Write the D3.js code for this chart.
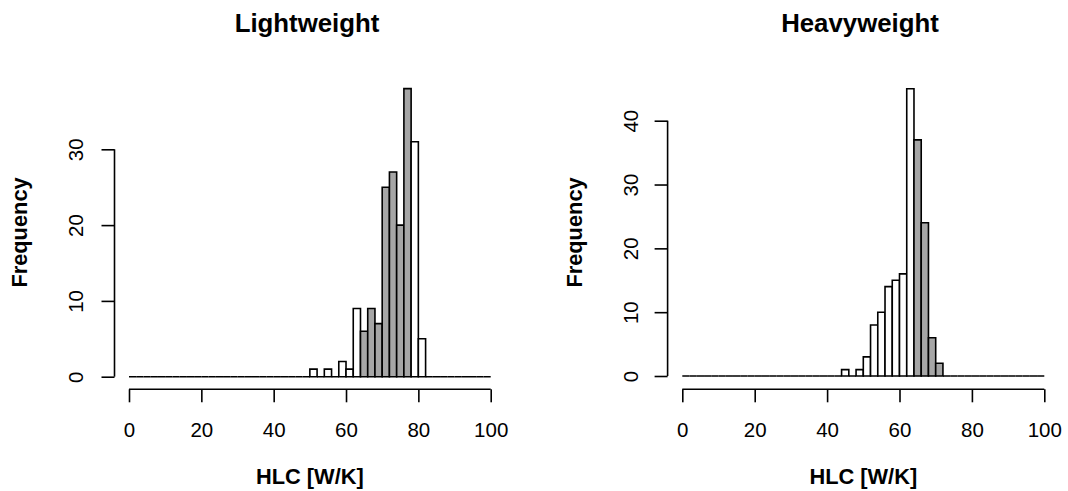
<!DOCTYPE html>
<html>
<head>
<meta charset="utf-8">
<script src="https://cdn.jsdelivr.net/npm/d3@7"></script>
<style>
  html, body { margin: 0; padding: 0; background: #ffffff; }
  svg { display: block; font-family: "Liberation Sans", Arial, Helvetica, sans-serif; }
</style>
</head>
<body>
<svg id="chart" width="1068" height="491"></svg>
<script>
// Histogram breaks: 2 W/K wide bins from 0 to 100
const breaks = d3.range(0, 101, 2);

// Counts per bin (50 bins), lightweight buildings
const countsLight = [
  0, 0, 0, 0, 0, 0, 0, 0, 0, 0,
  0, 0, 0, 0, 0, 0, 0, 0, 0, 0,
  0, 0, 0, 0, 0, 1, 0, 1, 0, 2,
  1, 9, 6, 9, 7, 25, 27, 20, 38, 31,
  5, 0, 0, 0, 0, 0, 0, 0, 0, 0
];

// Counts per bin (50 bins), heavyweight buildings
const countsHeavy = [
  0, 0, 0, 0, 0, 0, 0, 0, 0, 0,
  0, 0, 0, 0, 0, 0, 0, 0, 0, 0,
  0, 0, 1, 0, 1, 3, 8, 10, 14, 15,
  16, 45, 37, 24, 6, 2, 0, 0, 0, 0,
  0, 0, 0, 0, 0, 0, 0, 0, 0, 0
];

// HLC interval whose bins are shaded
const shadeLight = [64, 78];
const shadeHeavy = [64, 72];

const xTicks = [0, 20, 40, 60, 80, 100];
const yTicksLight = [0, 10, 20, 30];
const yTicksHeavy = [0, 10, 20, 30, 40];

const titles = ["Lightweight", "Heavyweight"];
const xLabel = "HLC [W/K]";
const yLabel = "Frequency";

const svg = d3.select("#chart");

const panels = [
  {
    title: titles[0], counts: countsLight, shade: shadeLight, yTicks: yTicksLight,
    plotLeft: 114.5, xRange: [129, 490.7], yRange: [376.7, 149.3],
    yDomainMax: 30, titleX: 307, yTickBase: 83.3, yLabelBase: 26.7
  },
  {
    title: titles[1], counts: countsHeavy, shade: shadeHeavy, yTicks: yTicksHeavy,
    plotLeft: 667.6, xRange: [682.3, 1044.3], yRange: [376, 120.7],
    yDomainMax: 40, titleX: 860, yTickBase: 638.3, yLabelBase: 581.7
  }
];

const FILL_SHADE = "#a6a6a6";
const STROKE_W = 1.6;
const axisY = 389.3;
const plotMidY = 232.5;

panels.forEach(p => {
  const x = d3.scaleLinear().domain([0, 100]).range(p.xRange);
  const y = d3.scaleLinear().domain([0, p.yDomainMax]).range(p.yRange);
  const g = svg.append("g");

  // bars (zero-count bins collapse to a line on the baseline)
  const bins = p.counts.map((c, i) => ({ x0: breaks[i], x1: breaks[i + 1], n: c }));
  g.selectAll("path.bar")
    .data(bins)
    .join("path")
    .attr("class", "bar")
    .attr("d", d => {
      const a = x(d.x0), b = x(d.x1), y0 = y(0), y1 = y(d.n);
      return `M${a},${y0}L${a},${y1}L${b},${y1}L${b},${y0}Z`;
    })
    .attr("fill", d => (d.x0 >= p.shade[0] && d.x1 <= p.shade[1]) ? FILL_SHADE : "#ffffff")
    .attr("stroke", "#000")
    .attr("stroke-width", STROKE_W)
    .attr("stroke-linejoin", "miter");

  // x axis
  const xa = g.append("g").attr("transform", `translate(0,${axisY})`)
    .call(d3.axisBottom(x).tickValues(xTicks).tickSize(13).tickPadding(0).tickFormat(d3.format("d")));
  xa.select(".domain").attr("d", `M${x(0)},0H${x(100)}`).attr("stroke-width", STROKE_W);
  xa.selectAll(".tick line").attr("stroke-width", STROKE_W);
  xa.selectAll(".tick text")
    .attr("y", 436.7 - axisY).attr("dy", null)
    .attr("font-size", 20.5).attr("fill", "#000");

  // y axis
  const ya = g.append("g").attr("transform", `translate(${p.plotLeft},0)`)
    .call(d3.axisLeft(y).tickValues(p.yTicks).tickSize(13).tickFormat(d3.format("d")));
  ya.select(".domain").attr("d", `M0,${y(p.yTicks[0])}V${y(p.yTicks[p.yTicks.length - 1])}`)
    .attr("stroke-width", STROKE_W);
  ya.selectAll(".tick line").attr("stroke-width", STROKE_W);
  ya.selectAll(".tick text")
    .attr("x", null).attr("dy", null)
    .attr("transform", `translate(${p.yTickBase - p.plotLeft},0) rotate(-90)`)
    .attr("text-anchor", "middle")
    .attr("font-size", 20.5).attr("fill", "#000");

  // title
  g.append("text")
    .attr("x", p.titleX).attr("y", 32)
    .attr("text-anchor", "middle")
    .attr("font-weight", "bold").attr("font-size", 25.8)
    .text(p.title);

  // axis titles
  g.append("text")
    .attr("x", (p.xRange[0] + p.xRange[1]) / 2).attr("y", 484)
    .attr("text-anchor", "middle")
    .attr("font-weight", "bold").attr("font-size", 21.8)
    .text(xLabel);

  g.append("text")
    .attr("transform", `translate(${p.yLabelBase},${plotMidY}) rotate(-90)`)
    .attr("text-anchor", "middle")
    .attr("font-weight", "bold").attr("font-size", 21.8)
    .text(yLabel);
});
</script>
</body>
</html>
